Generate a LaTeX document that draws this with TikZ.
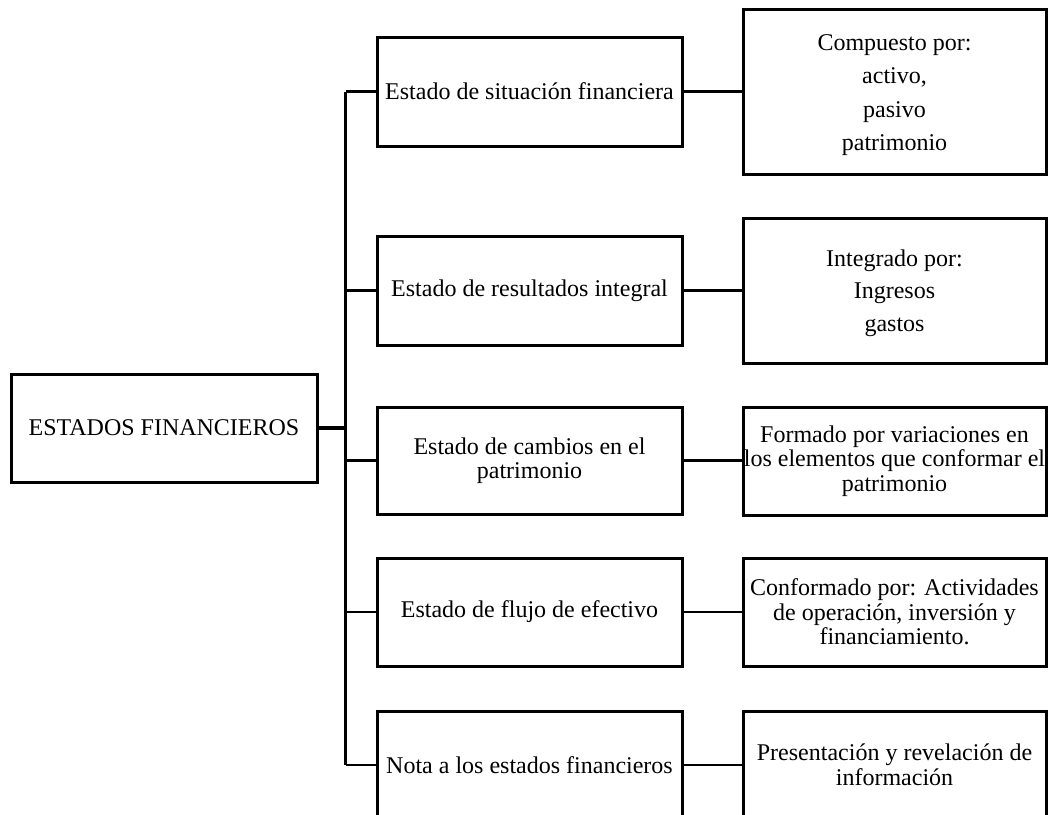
\documentclass[tikz,border=0pt]{standalone}
\usepackage{fontspec}
\setmainfont{Liberation Serif}
\begin{document}
\begin{tikzpicture}[x=1pt,y=-1pt,
  box/.style={draw,line width=3pt,rectangle,inner sep=0pt,align=center,
    font=\fontsize{24}{24.5}\selectfont},
  lbox/.style={box,minimum width=305pt,minimum height=108pt},
  rbox/.style={box,minimum width=303pt,minimum height=108pt},
  conn/.style={line width=2.4pt},
  trunkline/.style={line width=2.8pt},
  rootconn/.style={line width=4pt}]
\useasboundingbox (0,0) rectangle (1049,814);
\clip (0,0) rectangle (1049,814);
\node[box,minimum width=306pt,minimum height=108pt] (root) at (164,428) {ESTADOS FINANCIEROS};
\node[lbox,minimum height=109pt] (b1) at (529.5,91.5) {Estado de situación financiera};
\node[lbox,minimum height=109pt] (b2) at (529.5,290.5) {Estado de resultados integral};
\node[lbox,minimum height=107pt] (b3) at (529.5,460.5) {Estado de cambios en el\\patrimonio};
\node[lbox] (b4) at (529.5,612) {Estado de flujo de efectivo};
\node[lbox] (b5) at (529.5,765) {Nota a los estados financieros};
\node[rbox,minimum height=165pt,
  label={[yshift=-3.5pt,align=center,font=\fontsize{24}{33.3}\selectfont]center:Compuesto por:\\activo,\\pasivo\\patrimonio}] (c1) at (894.5,91.5) {};
\node[rbox,minimum height=145pt,
  label={[yshift=-2.5pt,align=center,font=\fontsize{24}{32.5}\selectfont]center:Integrado por:\\Ingresos\\gastos}] (c2) at (894.5,290.5) {};
\node[rbox] (c3) at (894.5,461) {Formado por variaciones en\\los elementos que conformar el\\patrimonio};
\node[rbox] (c4) at (894.5,612) {Conformado por: Actividades\\de operación, inversión y\\financiamiento.};
\node[rbox] (c5) at (894.5,765) {Presentación y revelación de\\información};
% trunk
\draw[conn] (b1.west) -- ++(-30,0) coordinate (ttop);
\draw[conn] (b5.west) -- ++(-30,0) coordinate (tbot);
\draw[trunkline] (ttop) -- (tbot);
\foreach \b in {b2,b3,b4} \draw[conn] (\b.west) -- (\b.west -| ttop);
\draw[rootconn] (root.east) -- (root.east -| ttop);
% right connectors
\foreach \i in {1,...,5} \draw[conn] (b\i.east) -- (c\i.west |- b\i.east);
\end{tikzpicture}
\end{document}
